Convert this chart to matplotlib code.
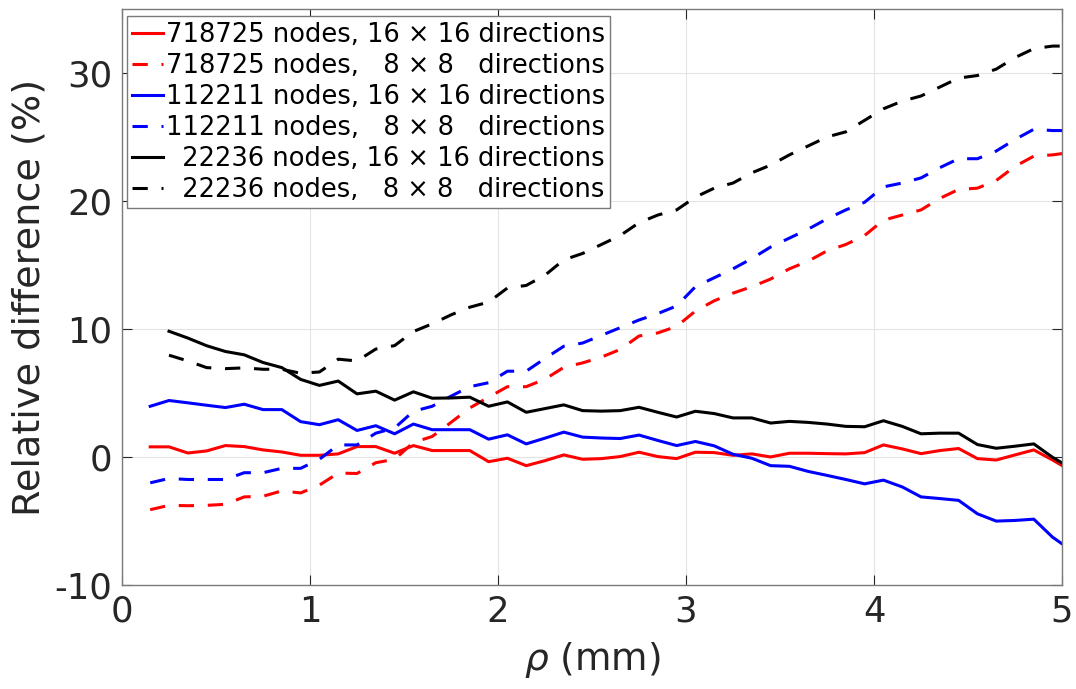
import matplotlib
matplotlib.use("Agg")
import matplotlib.pyplot as plt

# rho grid (mm); the 22236-node runs start one step later
rho = [0.15, 0.25, 0.35, 0.45, 0.55, 0.65, 0.75, 0.85, 0.95, 1.05,
       1.15, 1.25, 1.35, 1.45, 1.55, 1.65, 1.75, 1.85, 1.95, 2.05,
       2.15, 2.25, 2.35, 2.45, 2.55, 2.65, 2.75, 2.85, 2.95, 3.05,
       3.15, 3.25, 3.35, 3.45, 3.55, 3.65, 3.75, 3.85, 3.95, 4.05,
       4.15, 4.25, 4.35, 4.45, 4.55, 4.65, 4.75, 4.85, 4.95, 5.05]
rho_coarse = rho[1:]

red_16 = [0.79, 0.79, 0.31, 0.47, 0.89, 0.81, 0.55, 0.39, 0.13, 0.13,
          0.24, 0.81, 0.81, 0.29, 0.89, 0.5, 0.5, 0.5, -0.37, -0.1,
          -0.68, -0.29, 0.16, -0.18, -0.13, 0.03, 0.37, 0.03, -0.13, 0.37,
          0.34, 0.13, 0.24, 0.0, 0.29, 0.29, 0.26, 0.24, 0.34, 0.94,
          0.63, 0.26, 0.5, 0.66, -0.13, -0.24, 0.16, 0.55, -0.24, -1.1]
red_8 = [-4.12, -3.78, -3.81, -3.78, -3.7, -3.12, -3.07, -2.65, -2.81, -2.2,
         -1.26, -1.29, -0.45, -0.18, 1.13, 1.6, 2.7, 3.83, 4.67, 5.49,
         5.49, 6.08, 7.0, 7.35, 7.8, 8.4, 9.45, 9.69, 10.2, 11.4,
         12.2, 12.8, 13.3, 13.9, 14.7, 15.3, 16.1, 16.6, 17.3, 18.5,
         18.9, 19.3, 20.2, 20.9, 21.0, 21.6, 22.7, 23.5, 23.6, 23.8]
blue_16 = [3.96, 4.41, 4.23, 4.04, 3.86, 4.12, 3.70, 3.70, 2.76, 2.52,
           2.91, 2.07, 2.44, 1.81, 2.57, 2.13, 2.13, 2.13, 1.39, 1.73,
           1.02, 1.47, 1.94, 1.55, 1.48, 1.44, 1.71, 1.29, 0.89, 1.21,
           0.87, 0.21, -0.1, -0.68, -0.73, -1.13, -1.44, -1.76, -2.1, -1.81,
           -2.34, -3.12, -3.25, -3.39, -4.44, -5.01, -4.96, -4.86, -6.27, -7.3]
blue_8 = [-2.02, -1.68, -1.76, -1.76, -1.76, -1.23, -1.23, -0.89, -0.89, -0.18,
          0.94, 0.94, 1.86, 2.26, 3.57, 3.96, 4.75, 5.49, 5.8, 6.7,
          6.7, 7.7, 8.65, 8.9, 9.5, 10.1, 10.7, 11.2, 11.8, 13.3,
          14.0, 14.7, 15.5, 16.4, 17.1, 17.8, 18.6, 19.3, 19.9, 21.1,
          21.4, 21.8, 22.6, 23.3, 23.3, 23.9, 24.8, 25.6, 25.5, 25.5]
black_16 = [9.82, 9.29, 8.69, 8.24, 7.98, 7.38, 6.98, 6.06, 5.59, 5.93,
            4.93, 5.14, 4.44, 5.09, 4.59, 4.61, 4.67, 3.96, 4.3, 3.49,
            3.78, 4.07, 3.62, 3.58, 3.62, 3.88, 3.49, 3.12, 3.57, 3.39,
            3.05, 3.05, 2.65, 2.78, 2.7, 2.57, 2.39, 2.36, 2.83, 2.39,
            1.81, 1.86, 1.86, 0.97, 0.68, 0.84, 1.02, -0.03, -0.9]
black_8 = [7.95, 7.5, 6.98, 6.9, 6.96, 6.85, 6.85, 6.54, 6.64, 7.64,
           7.5, 8.43, 8.7, 9.8, 10.4, 11.1, 11.7, 12.1, 13.2, 13.4,
           14.2, 15.4, 15.9, 16.6, 17.3, 18.3, 18.9, 19.3, 20.3, 21.0,
           21.4, 22.2, 22.8, 23.6, 24.3, 25.0, 25.4, 26.3, 27.2, 27.8,
           28.2, 28.9, 29.6, 29.8, 30.3, 31.2, 31.9, 32.1, 32.1]

labels = ["718725 nodes, 16 \u00d7 16 directions",
          "718725 nodes,   8 \u00d7 8   directions",
          "112211 nodes, 16 \u00d7 16 directions",
          "112211 nodes,   8 \u00d7 8   directions",
          "  22236 nodes, 16 \u00d7 16 directions",
          "  22236 nodes,   8 \u00d7 8   directions"]

plt.rcParams['font.family'] = ['DejaVu Sans']
plt.rcParams['axes.unicode_minus'] = False
plt.rcParams['mathtext.fontset'] = 'dejavusans'

fig = plt.figure(figsize=(10.76, 6.89), dpi=100)
ax = fig.add_axes([0.1134, 0.151, 0.8736, 0.836])

lw = 2.2
dash = (0, (5, 4.5))
ax.plot(rho, red_16, color='#ff0000', lw=lw, label=labels[0])
ax.plot(rho, red_8, color='#ff0000', lw=lw, ls=dash, label=labels[1])
ax.plot(rho, blue_16, color='#0000ff', lw=lw, label=labels[2])
ax.plot(rho, blue_8, color='#0000ff', lw=lw, ls=dash, label=labels[3])
ax.plot(rho_coarse, black_16, color='black', lw=lw, label=labels[4])
ax.plot(rho_coarse, black_8, color='black', lw=lw, ls=dash, label=labels[5])

ax.set_xlim(0, 5)
ax.set_ylim(-10, 35)
ax.set_xticks([0, 1, 2, 3, 4, 5])
ax.set_yticks([-10, 0, 10, 20, 30])
ax.grid(True, color='#e3e3e3', lw=0.8)
ax.set_axisbelow(True)
ax.tick_params(direction='in', top=True, right=True, length=7, width=0.8,
               colors='#262626', labelsize=25.5, pad=7)
for s in ax.spines.values():
    s.set_color('#7a7a7a')
    s.set_linewidth(1.0)

ax.set_xlabel(r'$\rho$ (mm)', fontsize=27, color='#262626', labelpad=8)
ax.set_ylabel('Relative difference (%)', fontsize=27.5, color='#262626', labelpad=5)

leg = ax.legend(loc='upper left', bbox_to_anchor=(0.005, 0.987), fontsize=18.5,
                handlelength=1.2, handletextpad=0.12, labelspacing=0.2,
                borderpad=0.2, borderaxespad=0.0, fancybox=False,
                framealpha=1, edgecolor='#7a7a7a')
leg.get_frame().set_linewidth(1.0)

fig.savefig('out.png', dpi=100)
